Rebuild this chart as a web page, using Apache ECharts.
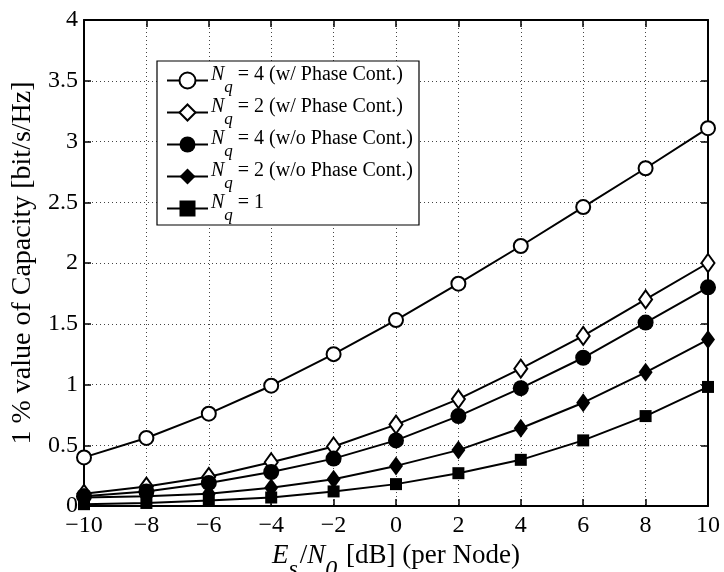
<!DOCTYPE html>
<html>
<head>
<meta charset="utf-8">
<script src="https://cdn.jsdelivr.net/npm/echarts@6/dist/echarts.min.js"></script>
<style>
  html, body { margin: 0; padding: 0; background: #fff; }
  #chart { width: 724px; height: 572px; }
</style>
</head>
<body>
<div id="chart"></div>
<script>
// Es/N0 per node [dB]
const snrDb = [-10, -8, -6, -4, -2, 0, 2, 4, 6, 8, 10];

// 1 % outage capacity [bit/s/Hz]
const nq4WithPhase    = [0.40, 0.56, 0.76, 0.99, 1.25, 1.53, 1.83, 2.14, 2.46, 2.78, 3.11];
const nq2WithPhase    = [0.10, 0.16, 0.24, 0.36, 0.49, 0.67, 0.88, 1.13, 1.40, 1.70, 2.00];
const nq4WithoutPhase = [0.08, 0.12, 0.19, 0.28, 0.39, 0.54, 0.74, 0.97, 1.22, 1.51, 1.80];
const nq2WithoutPhase = [0.07, 0.08, 0.10, 0.15, 0.22, 0.33, 0.46, 0.64, 0.85, 1.10, 1.37];
const nq1             = [0.015, 0.025, 0.045, 0.07, 0.12, 0.18, 0.27, 0.38, 0.54, 0.74, 0.98];

// legend text following the italic "N_q"
const legendSuffix = [
  '= 4 (w/ Phase Cont.)',
  '= 2 (w/ Phase Cont.)',
  '= 4 (w/o Phase Cont.)',
  '= 2 (w/o Phase Cont.)',
  '= 1'
];

const yTicks = [0, 0.5, 1, 1.5, 2, 2.5, 3, 3.5, 4];

const FONT = '"Liberation Serif", "Times New Roman", serif';

const seriesDefs = [
  { values: nq4WithPhase,    symbol: 'circle',  size: 14, open: true },
  { values: nq2WithPhase,    symbol: 'diamond', size: [13, 18], open: true },
  { values: nq4WithoutPhase, symbol: 'circle',  size: 16, open: false },
  { values: nq2WithoutPhase, symbol: 'diamond', size: [14, 19], open: false },
  { values: nq1,             symbol: 'rect',    size: 12, open: false }
];

const chart = echarts.init(document.getElementById('chart'), null, { renderer: 'canvas' });

const minus = v => String(v).replace('-', '\u2212');

const axisLineStyle = { onZero: false, lineStyle: { color: '#000', width: 2 } };
const tickStyle = { show: true, inside: true, length: 7, lineStyle: { color: '#000', width: 1.5 } };

chart.setOption({
  backgroundColor: '#fff',
  animation: false,
  grid: { left: 84, right: 16, top: 20, bottom: 66, containLabel: false, outerBoundsMode: 'none' },
  legend: {
    orient: 'vertical',
    left: 157,
    top: 61,
    padding: [4, 6, 1, 9],
    itemGap: 1,
    itemWidth: 41,
    itemHeight: 20,
    backgroundColor: '#fff',
    borderColor: '#000',
    borderWidth: 1.2,
    z: 10,
    // z token is an invisible strut that sets the row height; q hangs at its bottom
    formatter: name => '{z|\u200b}{n|N}{q|q}{t| ' + name + '}',
    textStyle: {
      fontFamily: FONT,
      color: '#000',
      padding: [0, 0, 0, -2],
      rich: {
        z: { fontFamily: FONT, fontSize: 20, lineHeight: 31, verticalAlign: 'top', width: 0 },
        n: { fontFamily: FONT, fontSize: 20, fontStyle: 'italic', color: '#000', lineHeight: 20, verticalAlign: 'top' },
        q: { fontFamily: FONT, fontSize: 17, fontStyle: 'italic', color: '#000', lineHeight: 20, verticalAlign: 'bottom' },
        t: { fontFamily: FONT, fontSize: 20, color: '#000', lineHeight: 20, verticalAlign: 'top' }
      }
    }
  },
  xAxis: [
    {
      type: 'value',
      min: -10, max: 10, interval: 2,
      position: 'bottom',
      axisLine: axisLineStyle,
      axisTick: tickStyle,
      axisLabel: { fontFamily: FONT, fontSize: 24, color: '#000', margin: 8, formatter: v => minus(v) },
      splitLine: { show: true, lineStyle: { color: '#444', width: 1, type: [1, 3] } },
      name: '{e|E}{s|s}{t|/}{e|N}{s|0}{t| [dB] (per Node)}',
      nameLocation: 'middle',
      nameGap: 30,
      nameTextStyle: {
        fontFamily: FONT,
        color: '#000',
        rich: {
          e: { fontFamily: FONT, fontSize: 27, fontStyle: 'italic', color: '#000', lineHeight: 27, verticalAlign: 'top' },
          s: { fontFamily: FONT, fontSize: 24, color: '#000', fontStyle: 'italic', lineHeight: 24, padding: [15, 2, 0, 0], verticalAlign: 'top' },
          t: { fontFamily: FONT, fontSize: 27, color: '#000', lineHeight: 27, verticalAlign: 'top' }
        }
      }
    },
    {
      type: 'value',
      min: -10, max: 10, interval: 2,
      position: 'top',
      axisLine: axisLineStyle,
      axisTick: tickStyle,
      axisLabel: { show: false },
      splitLine: { show: false }
    }
  ],
  yAxis: [
    {
      type: 'value',
      min: yTicks[0], max: yTicks[yTicks.length - 1], interval: yTicks[1] - yTicks[0],
      position: 'left',
      axisLine: axisLineStyle,
      axisTick: tickStyle,
      axisLabel: { fontFamily: FONT, fontSize: 24, color: '#000', margin: 6 },
      splitLine: { show: true, lineStyle: { color: '#444', width: 1, type: [1, 3] } },
      name: '1 % value of Capacity [bit/s/Hz]',
      nameLocation: 'middle',
      nameGap: 46,
      nameTextStyle: { fontFamily: FONT, fontSize: 28, color: '#000' }
    },
    {
      type: 'value',
      min: yTicks[0], max: yTicks[yTicks.length - 1], interval: yTicks[1] - yTicks[0],
      position: 'right',
      axisLine: axisLineStyle,
      axisTick: tickStyle,
      axisLabel: { show: false },
      splitLine: { show: false }
    }
  ],
  series: seriesDefs.map((d, i) => ({
    name: legendSuffix[i],
    type: 'line',
    xAxisIndex: 0,
    yAxisIndex: 0,
    data: snrDb.map((x, k) => [x, d.values[k]]),
    symbol: d.symbol,
    symbolSize: d.size,
    showAllSymbol: true,
    clip: false,
    lineStyle: { color: '#000', width: 2 },
    itemStyle: {
      color: d.open ? '#fff' : '#000',
      borderColor: '#000',
      borderWidth: d.open ? 2 : 0
    },
    emphasis: { disabled: true },
    z: 3 + i
  }))
});
</script>
</body>
</html>
